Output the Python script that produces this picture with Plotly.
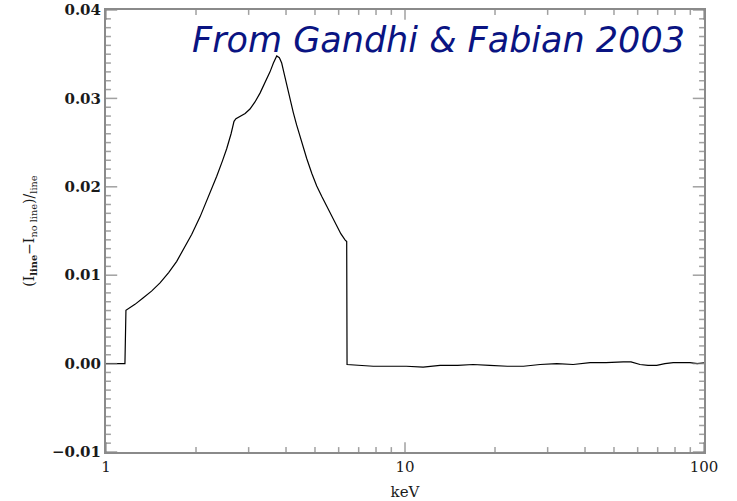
import plotly.graph_objects as go

# Energy (keV) and fractional difference
energy_keV = [1.0, 1.157, 1.166, 1.25, 1.333, 1.42, 1.516, 1.62, 1.724, 1.814,
              1.934, 2.063, 2.20, 2.346, 2.45, 2.533, 2.62, 2.680, 2.72, 2.807,
              2.92, 3.030, 3.15, 3.274, 3.40, 3.536, 3.63, 3.724, 3.80, 3.869,
              3.95, 4.021, 4.12, 4.231, 4.34, 4.456, 4.57, 4.691, 4.88, 5.067,
              5.27, 5.472, 5.69, 5.909, 6.10, 6.301, 6.383, 6.40,
              7.0, 7.83, 9.0, 10.1, 11.5, 13.1, 15.0, 16.9, 19.2, 22.0, 24.9,
              28.3, 32.2, 36.5, 41.6, 47.0, 53.7, 57.0, 61.1, 65.0, 69.5, 74.0,
              78.9, 84.0, 89.8, 95.0, 100.0]
ratio = [0.0, 0.0, 0.00604, 0.0067, 0.00744, 0.0082, 0.00913, 0.0103, 0.01157, 0.0129,
         0.0146, 0.0166, 0.0188, 0.0212, 0.0229, 0.0243, 0.0260, 0.0274, 0.0277, 0.02795,
         0.0283, 0.0288, 0.0296, 0.0306, 0.0317, 0.0330, 0.0340, 0.0348, 0.0346, 0.0340,
         0.0327, 0.0315, 0.0298, 0.0284, 0.0270, 0.0257, 0.0244, 0.0232, 0.0215, 0.0201,
         0.0189, 0.0178, 0.0166, 0.0155, 0.0147, 0.0140, 0.0138, -0.0001,
         -0.0002, -0.0003, -0.0003, -0.0003, -0.0004, -0.0002, -0.0002, -0.0001, -0.0002, -0.0003, -0.0003,
         -0.0001, 0.0000, -0.0001, 0.0001, 0.0001, 0.0002, 0.0002, -0.0001, -0.0002, -0.0002, 0.0000,
         0.0001, 0.0001, 0.0001, 0.0000, 0.0001]

x_major = [1, 10, 100]
x_major_text = ["1", "10", "100"]
x_minor = [2, 3, 4, 5, 6, 7, 8, 9, 20, 30, 40, 50, 60, 70, 80, 90]
y_major = [-0.01, 0.00, 0.01, 0.02, 0.03, 0.04]
y_major_text = ["\u22120.01", "0.00", "0.01", "0.02", "0.03", "0.04"]
y_minor = [i / 1000 for i in range(-10, 41) if i % 10 != 0]
x_lo, x_hi = 1, 100
y_lo, y_hi = -0.01, 0.04

axis_col = "#8a8a8a"
tick_col = "#7a7a7a"
serif = "DejaVu Serif"
txt_col = "#1a1a1a"

fig = go.Figure()
fig.add_trace(go.Scatter(x=energy_keV, y=ratio, mode="lines",
                         line=dict(color="black", width=1.2), showlegend=False))

# Tick marks: line markers sitting on the frame, half clipped by the plot area
y_vals = y_major + y_minor
y_sizes = [16] * len(y_major) + [7] * len(y_minor)
x_vals = x_major + x_minor
x_sizes = [14] * len(x_major) + [7] * len(x_minor)
for edge in (x_lo, x_hi):
    fig.add_trace(go.Scatter(x=[edge] * len(y_vals), y=y_vals, mode="markers",
                             marker=dict(symbol="line-ew", size=y_sizes, color=tick_col,
                                         line=dict(color=tick_col, width=1.5)),
                             showlegend=False, hoverinfo="skip", cliponaxis=True))
for edge in (y_lo, y_hi):
    fig.add_trace(go.Scatter(x=x_vals, y=[edge] * len(x_vals), mode="markers",
                             marker=dict(symbol="line-ns", size=x_sizes, color=tick_col,
                                         line=dict(color=tick_col, width=1.5)),
                             showlegend=False, hoverinfo="skip", cliponaxis=True))

fig.update_layout(
    template="none", width=737, height=501,
    margin=dict(l=106, r=33, t=10, b=49),
    plot_bgcolor="white", paper_bgcolor="white",
    xaxis=dict(type="log", range=[0, 2], showgrid=False, zeroline=False,
               showline=True, linecolor=axis_col, linewidth=2, mirror=True,
               ticks="", tickmode="array", tickvals=x_major, ticktext=x_major_text,
               tickfont=dict(family=serif, size=15, color=txt_col),
               title=dict(text="keV", font=dict(family=serif, size=15, color=txt_col),
                          standoff=12)),
    yaxis=dict(range=[y_lo, y_hi], showgrid=False, zeroline=False,
               showline=True, linecolor=axis_col, linewidth=2, mirror=True,
               ticks="", tickmode="array", tickvals=y_major, ticktext=y_major_text,
               tickfont=dict(family=serif, size=15, color=txt_col, weight="bold"),
               title=dict(text="(I<sub><b>line</b></sub>\u2212I<sub>no line</sub>)/<sub>line</sub>",
                          font=dict(family=serif, size=14, color=txt_col), standoff=14)),
)

fig.add_annotation(x=0.14, y=0.932, xref="paper", yref="paper",
                   xanchor="left", yanchor="middle", showarrow=False,
                   text="From Gandhi &amp; Fabian 2003",
                   font=dict(family="DejaVu Sans", size=35, color="#0a1482", style="italic"))

fig.write_html("out.html")
